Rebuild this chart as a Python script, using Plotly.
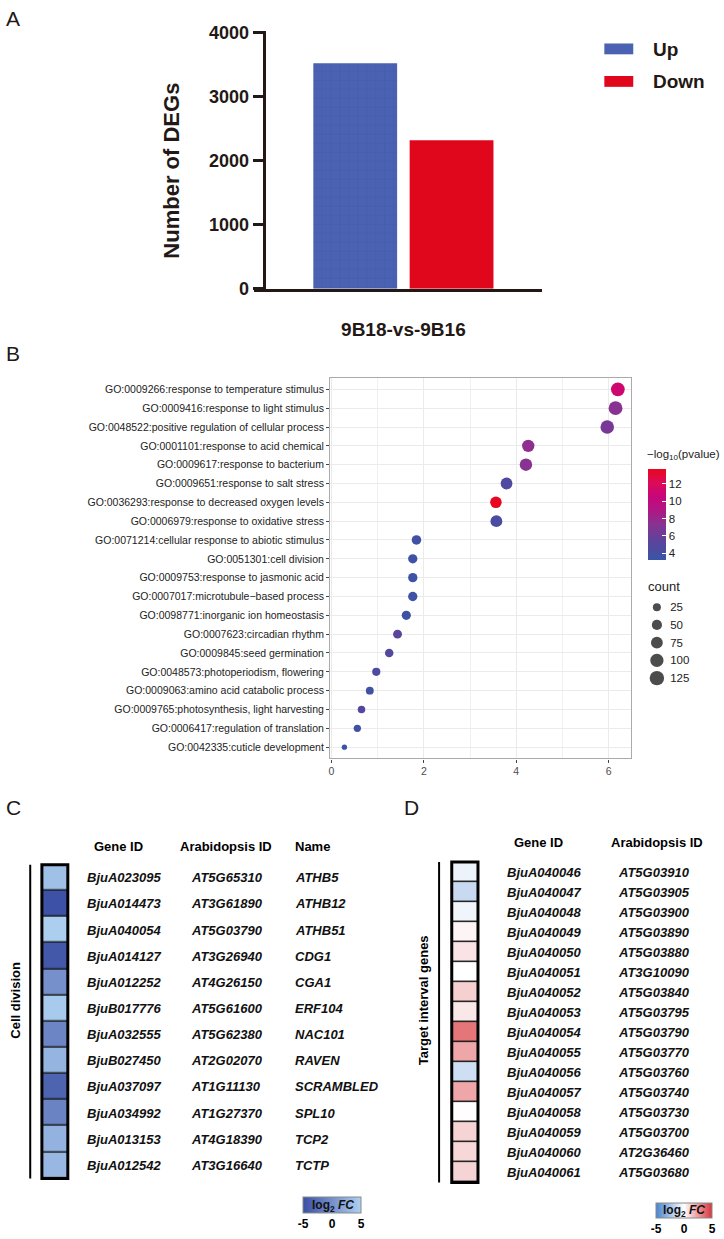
import numpy as np
import plotly.graph_objects as go

W, H = 724, 1239
def PX(x): return x / W
def PY(y): return 1 - y / H

FONT = "Liberation Sans, Arial, Helvetica, sans-serif"
DARK = "#231815"

# ---------------- data ----------------
# Panel A
deg_group = ["9B18-vs-9B16"]
deg_up = [3520]
deg_down = [2320]
deg_ticks = [0, 1000, 2000, 3000, 4000]

# Panel B
go_terms = [
    "GO:0009266:response to temperature stimulus",
    "GO:0009416:response to light stimulus",
    "GO:0048522:positive regulation of cellular process",
    "GO:0001101:response to acid chemical",
    "GO:0009617:response to bacterium",
    "GO:0009651:response to salt stress",
    "GO:0036293:response to decreased oxygen levels",
    "GO:0006979:response to oxidative stress",
    "GO:0071214:cellular response to abiotic stimulus",
    "GO:0051301:cell division",
    "GO:0009753:response to jasmonic acid",
    "GO:0007017:microtubule\u2212based process",
    "GO:0098771:inorganic ion homeostasis",
    "GO:0007623:circadian rhythm",
    "GO:0009845:seed germination",
    "GO:0048573:photoperiodism, flowering",
    "GO:0009063:amino acid catabolic process",
    "GO:0009765:photosynthesis, light harvesting",
    "GO:0006417:regulation of translation",
    "GO:0042335:cuticle development",
]
go_x = [6.20, 6.15, 5.97, 4.26, 4.21, 3.79, 3.56, 3.57, 1.84, 1.76,
        1.76, 1.76, 1.62, 1.43, 1.25, 0.97, 0.83, 0.65, 0.56, 0.28]
go_logp = [11.0, 7.3, 6.6, 7.6, 7.3, 4.6, 13.6, 4.3, 3.7, 3.5,
           3.5, 3.5, 3.4, 5.3, 4.8, 4.4, 3.6, 4.9, 3.7, 3.4]
go_count = [110, 112, 106, 84, 86, 74, 70, 76, 42, 39,
            39, 39, 37, 34, 30, 27, 24, 21, 19, 6]
count_legend = [25, 50, 75, 100, 125]
logp_ticks = [4, 6, 8, 10, 12]

# Panel C
c_gene = ["BjuA023095", "BjuA014473", "BjuA040054", "BjuA014127", "BjuA012252", "BjuB017776",
          "BjuA032555", "BjuB027450", "BjuA037097", "BjuA034992", "BjuA013153", "BjuA012542"]
c_at = ["AT5G65310", "AT3G61890", "AT5G03790", "AT3G26940", "AT4G26150", "AT5G61600",
        "AT5G62380", "AT2G02070", "AT1G11130", "AT1G27370", "AT4G18390", "AT3G16640"]
c_name = ["ATHB5", "ATHB12", "ATHB51", "CDG1", "CGA1", "ERF104",
          "NAC101", "RAVEN", "SCRAMBLED", "SPL10", "TCP2", "TCTP"]
c_fc = [3.8, -4.8, 4.9, -4.3, 0.0, 4.5, -0.7, 2.8, -3.4, -0.9, 2.7, 3.1]

# Panel D
d_gene = ["BjuA040046", "BjuA040047", "BjuA040048", "BjuA040049", "BjuA040050", "BjuA040051",
          "BjuA040052", "BjuA040053", "BjuA040054", "BjuA040055", "BjuA040056", "BjuA040057",
          "BjuA040058", "BjuA040059", "BjuA040060", "BjuA040061"]
d_at = ["AT5G03910", "AT5G03905", "AT5G03900", "AT5G03890", "AT5G03880", "AT3G10090",
        "AT5G03840", "AT5G03795", "AT5G03790", "AT5G03770", "AT5G03760", "AT5G03740",
        "AT5G03730", "AT5G03700", "AT2G36460", "AT5G03680"]
d_fc = [-0.5, -1.5, -0.4, 0.25, 0.7, 0.0, 1.2, 0.6, 3.4, 2.2, -1.3, 2.2, 0.05, 1.1, 1.0, 1.1]
fc_ticks = [-5, 0, 5]


def dot_size(c):
    return 2.75 + 1.05 * np.sqrt(np.asarray(c, dtype=float))


fig = go.Figure()

# ---------------- Panel A ----------------
fig.add_trace(go.Bar(
    x=deg_group, y=deg_up, name="Up", xaxis="x", yaxis="y",
    marker=dict(color="#4a62b1", line=dict(width=0),
                pattern=dict(shape="+", size=9, solidity=0.12, fgcolor="#3b52a2", bgcolor="#4a62b1")),
    showlegend=False))
fig.add_trace(go.Bar(
    x=deg_group, y=deg_down, name="Down", xaxis="x", yaxis="y",
    marker=dict(color="#e0061b", line=dict(width=0)), showlegend=False))

# ---------------- Panel B ----------------
bscale = [[0, "#3955a6"], [0.2, "#5a449c"], [0.4, "#8a3190"], [0.55, "#b01683"],
          [0.7, "#c8067a"], [0.85, "#dc0a58"], [1, "#e8071c"]]
fig.add_trace(go.Scatter(
    x=go_x, y=go_terms, mode="markers", xaxis="x2", yaxis="y2", showlegend=False,
    marker=dict(size=dot_size(go_count), color=go_logp, colorscale=bscale,
                cmin=3.2, cmax=13.7, line=dict(width=0), opacity=1,
                colorbar=dict(
                    x=PX(648), xanchor="left", y=PY(468), yanchor="top",
                    len=91, lenmode="pixels", thickness=18, thicknessmode="pixels",
                    xpad=0, ypad=0, outlinewidth=0,
                    tickvals=logp_ticks, ticks="inside", ticklen=4, tickcolor="white",
                    tickfont=dict(size=11.5, color="#222", family=FONT)))))

# size legend
fig.add_trace(go.Scatter(
    x=[0] * len(count_legend), y=[str(c) for c in count_legend], mode="markers",
    xaxis="x3", yaxis="y3", showlegend=False, hoverinfo="skip",
    marker=dict(size=dot_size(count_legend), color="black", line=dict(width=0))))

# ---------------- Panel C ----------------
cscale = [[0, "#3b4fa4"], [1, "#aed0f0"]]
fig.add_trace(go.Heatmap(
    z=[[v] for v in c_fc], x=["C"], y=c_gene, xaxis="x4", yaxis="y4",
    colorscale=cscale, zmin=-5, zmax=5, ygap=1.5, xgap=0,
    colorbar=dict(orientation="h", x=PX(302), xanchor="left", y=PY(1207), yanchor="top",
                  len=58, lenmode="pixels", thickness=16, xpad=0, ypad=0,
                  outlinewidth=1, outlinecolor="#8a8a8a",
                  tickvals=fc_ticks, ticktext=["-5", "0", "5"], ticks="",
                  tickfont=dict(size=12, color="black", family=FONT, weight="bold"))))

# ---------------- Panel D ----------------
dscale = [[0, "#4784d0"], [0.5, "#ffffff"], [1, "#d8353c"]]
fig.add_trace(go.Heatmap(
    z=[[v] for v in d_fc], x=["D"], y=d_gene, xaxis="x6", yaxis="y6",
    colorscale=dscale, zmin=-5, zmax=5, ygap=1.5, xgap=0,
    colorbar=dict(orientation="h", x=PX(656), xanchor="left", y=PY(1213), yanchor="top",
                  len=56, lenmode="pixels", thickness=15, xpad=0, ypad=0,
                  outlinewidth=1, outlinecolor="#8a8a8a",
                  tickvals=fc_ticks, ticktext=["-5", "0", "5"], ticks="",
                  tickfont=dict(size=12, color="black", family=FONT, weight="bold"))))

# ---------------- axes ----------------
layout = dict(
    width=W, height=H, margin=dict(l=0, r=0, t=0, b=0),
    paper_bgcolor="white", plot_bgcolor="white",
    font=dict(family=FONT, color=DARK),
    barmode="group", bargap=0.30, bargroupgap=0.13,
    showlegend=False,
    # A
    xaxis=dict(domain=[PX(253), PX(541)], anchor="y", range=[-0.5417, 0.5018],
               showline=True, linewidth=2.5, linecolor=DARK, ticks="", showgrid=False,
               zeroline=False, tickfont=dict(size=19, family=FONT, color=DARK, weight="bold"),
               ticklabelstandoff=22, fixedrange=True),
    yaxis=dict(domain=[PY(285), PY(23)], anchor="free", position=PX(263), range=[0, 4030],
               tickvals=deg_ticks, ticks="outside", ticklen=11, tickwidth=2.5, tickcolor=DARK,
               showline=True, linewidth=2.5, linecolor=DARK, showgrid=False, zeroline=False,
               tickfont=dict(size=18, family=FONT, color=DARK, weight="bold")),
    # B
    xaxis2=dict(domain=[PX(329), PX(631)], anchor="y2", range=[-0.03, 6.49],
                tickmode="linear", tick0=0, dtick=2, ticks="outside", ticklen=3, tickcolor="#444",
                showline=True, mirror=True, linecolor="#aaaaaa", linewidth=1.2,
                showgrid=True, gridcolor="#ebebeb", gridwidth=1, zeroline=False,
                minor=dict(dtick=1, tick0=0, showgrid=True, gridcolor="#f0f0f0", gridwidth=0.6),
                tickfont=dict(size=10.5, color="#4d4d4d", family=FONT)),
    yaxis2=dict(domain=[PY(761.5), PY(375.5)], anchor="x2", type="category",
                categoryorder="array", categoryarray=go_terms, range=[19.6, -0.6],
                ticks="outside", ticklen=3, tickcolor="#444",
                showline=True, mirror=True, linecolor="#aaaaaa", linewidth=1.2,
                showgrid=True, gridcolor="#ebebeb", gridwidth=1, zeroline=False,
                tickfont=dict(size=10.5, color="#222", family=FONT)),
    # size legend
    xaxis3=dict(domain=[PX(644.4), PX(669)], anchor="y3", range=[-1, 1], visible=False),
    yaxis3=dict(domain=[PY(689), PY(599)], anchor="x3", type="category", side="right",
                categoryorder="array", categoryarray=[str(c) for c in count_legend],
                range=[4.5, -0.5], showline=False, ticks="", showgrid=False, zeroline=False,
                tickfont=dict(size=11.5, color="#222", family=FONT)),
    # C
    xaxis4=dict(domain=[PX(40), PX(66)], anchor="y4", visible=False),
    yaxis4=dict(domain=[PY(1187.7), PY(869.3)], anchor="x4", type="category",
                categoryorder="array", categoryarray=c_gene, range=[11.5, -0.5], visible=False),
    # D
    xaxis6=dict(domain=[PX(451), PX(477.3)], anchor="y6", visible=False),
    yaxis6=dict(domain=[PY(1191.7), PY(866.7)], anchor="x6", type="category",
                categoryorder="array", categoryarray=d_gene, range=[15.5, -0.5], visible=False),
)

shapes = []
# Panel A legend swatches
shapes.append(dict(type="rect", xref="paper", yref="paper", x0=PX(604), x1=PX(633), y0=PY(47), y1=PY(36),
                   fillcolor="#4a62b1", line=dict(width=0)))
shapes.append(dict(type="rect", xref="paper", yref="paper", x0=PX(604), x1=PX(633), y0=PY(80), y1=PY(69),
                   fillcolor="#e0061b", line=dict(width=0)))
# heatmap backgrounds (cell separators) and frames
for xa, ya in [("x4", "y4"), ("x6", "y6")]:
    shapes.append(dict(type="rect", xref=f"{xa} domain", yref=f"{ya} domain", x0=0, x1=1, y0=0, y1=1,
                       fillcolor="#1a1a1a", line=dict(width=0), layer="below"))
    shapes.append(dict(type="rect", xref=f"{xa} domain", yref=f"{ya} domain", x0=0, x1=1, y0=0, y1=1,
                       fillcolor="rgba(0,0,0,0)", line=dict(width=3, color="black"), layer="above"))
# brackets
shapes.append(dict(type="line", xref="paper", yref="y4 domain", x0=PX(28.3), x1=PX(28.3), y0=0, y1=1,
                   line=dict(width=2, color="black")))
shapes.append(dict(type="line", xref="paper", yref="y6 domain", x0=PX(438.3), x1=PX(438.3), y0=0, y1=1,
                   line=dict(width=2, color="black")))
layout["shapes"] = shapes

ann = []
def A(x, y, text, size, xanchor="center", yanchor="middle", angle=0, color=DARK, **kw):
    ann.append(dict(x=PX(x), y=PY(y), xref="paper", yref="paper", text=text, showarrow=False,
                    xanchor=xanchor, yanchor=yanchor, textangle=angle,
                    font=dict(size=size, color=color, family=FONT), **kw))

# panel letters
A(2, 11, "A", 21, xanchor="left")
A(2, 351, "B", 21, xanchor="left")
A(2, 811, "C", 21, xanchor="left")
A(401, 811, "D", 21, xanchor="left")
# Panel A texts
A(170.5, 165, "<b>Number of DEGs</b>", 22, angle=-90)
A(651, 42, "<b>Up</b>", 19, xanchor="left")
A(651, 75, "<b>Down</b>", 19, xanchor="left")
# Panel B legend titles
A(722, 454, "\u2212log<sub>10</sub>(pvalue)", 11.5, xanchor="right", color="#222")
A(646, 587, "count", 13, xanchor="left", color="#222")
# Panel C headers
A(116.7, 851, "<b>Gene ID</b>", 13, color="black")
A(225, 851, "<b>Arabidopsis ID</b>", 13, color="black")
A(311, 851, "<b>Name</b>", 13, color="black")
A(13.3, 1007, "<b>Cell division</b>", 13, angle=-90, color="black")
A(331.7, 1215.5, "<b>log<sub>2</sub> <i>FC</i></b>", 12, color="#111")
# Panel D headers
A(538.3, 847.3, "<b>Gene ID</b>", 13, color="black")
A(656.7, 847.3, "<b>Arabidopsis ID</b>", 13, color="black")
A(423, 1007, "<b>Target interval genes</b>", 13, angle=-90, color="black")
A(684, 1220.5, "<b>log<sub>2</sub> <i>FC</i></b>", 12, color="#111")

# table text bound to heatmap rows
def row_text(keys, values, yref, xpx):
    for g, v in zip(keys, values):
        ann.append(dict(x=PX(xpx), xref="paper", y=g, yref=yref, text=f"<b><i>{v}</i></b>",
                        showarrow=False, xanchor="left", yanchor="middle",
                        font=dict(size=13, color="#111", family=FONT)))

row_text(c_gene, c_gene, "y4", 83.3)
row_text(c_gene, c_at, "y4", 187.7)
row_text(c_gene, c_name, "y4", 292.3)
row_text(d_gene, d_gene, "y6", 504)
row_text(d_gene, d_at, "y6", 616)

layout["annotations"] = ann
fig.update_layout(**layout)
fig.write_html("out.html")
